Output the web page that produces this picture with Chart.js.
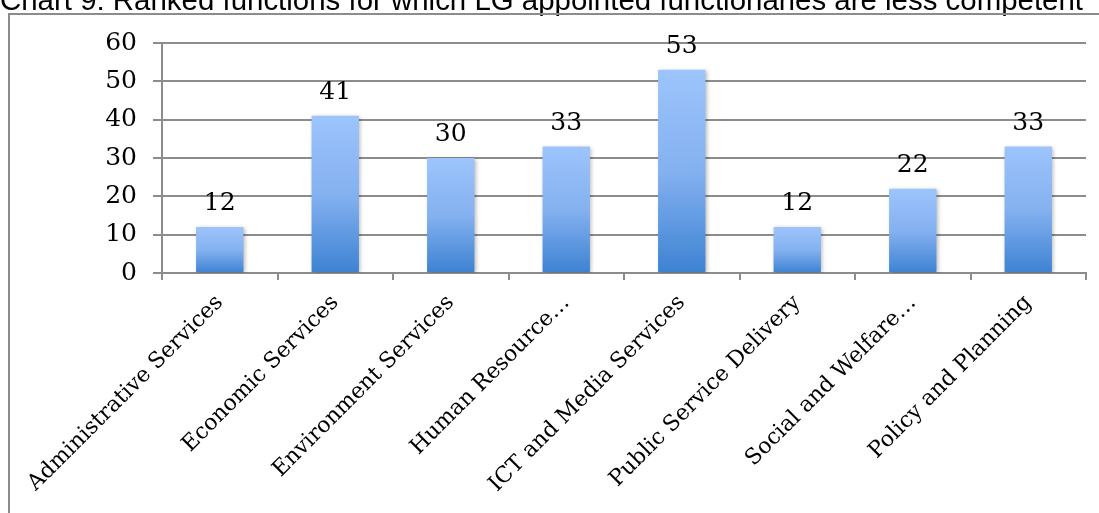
<!DOCTYPE html>
<html lang="en">

<head>
    <meta charset="UTF-8">
    <title>Chart 9</title>
    <script src="https://cdn.jsdelivr.net/npm/chart.js"></script>
    <style>
        html, body { margin: 0; padding: 0; background: #fff; }
    </style>
</head>

<body>
    <canvas id="chart_functions" width="1099" height="513"></canvas>

<script>
    // functions ranked by respondents
    var categories = [
        'Administrative Services',
        'Economic Services',
        'Environment Services',
        'Human Resource\u2026',
        'ICT and Media Services',
        'Public Service Delivery',
        'Social and Welfare\u2026',
        'Policy and Planning'
    ];
    var counts = [12, 41, 30, 33, 53, 12, 22, 33];
    var yMin = 0, yMax = 60, yStep = 10;
    var titleText = 'Chart 9: Ranked functions for which LG appointed functionaries are less competent';

    var serif = '"DejaVu Serif", serif';

    // gradient per bar, light at the top, darker blue at the base
    function barFill(ctx) {
        var chart = ctx.chart;
        if (!chart.chartArea || ctx.dataIndex === undefined) return '#7aaaf0';
        var y = chart.scales.y;
        var top = y.getPixelForValue(counts[ctx.dataIndex]);
        var base = y.getPixelForValue(0);
        var g = chart.ctx.createLinearGradient(0, top, 0, base);
        g.addColorStop(0, '#9dc4fc');
        g.addColorStop(0.5, '#84b1f0');
        g.addColorStop(1, '#3d82d2');
        return g;
    }

    // title line and the frame round the chart
    var framePlugin = {
        id: 'frame',
        beforeDraw: function (chart) {
            var c = chart.ctx;
            c.save();
            c.fillStyle = '#000';
            c.font = '30px "Liberation Sans", Arial, sans-serif';
            c.textBaseline = 'alphabetic';
            var w = c.measureText(titleText).width;
            c.translate(0, 9.5);
            c.scale(1083 / w, 1);
            c.fillText(titleText, 0, 0);
            c.restore();

            c.save();
            c.strokeStyle = '#8c8c8c';
            c.lineWidth = 2;
            c.beginPath();
            c.moveTo(9, 520);
            c.lineTo(9, 14);
            c.lineTo(1110, 14);
            c.stroke();
            c.restore();
        }
    };

    // soft shadow under the bars
    var shadowPlugin = {
        id: 'barShadow',
        beforeDatasetsDraw: function (chart) {
            var c = chart.ctx;
            c.save();
            c.shadowColor = 'rgba(0,0,0,0.28)';
            c.shadowBlur = 4;
            c.shadowOffsetX = 1.5;
            c.shadowOffsetY = 1;
        },
        afterDatasetsDraw: function (chart) {
            chart.ctx.restore();
        }
    };

    // value above every bar
    var valuePlugin = {
        id: 'values',
        afterDatasetsDraw: function (chart) {
            var c = chart.ctx;
            var meta = chart.getDatasetMeta(0);
            c.save();
            c.fillStyle = '#000';
            c.font = '25px ' + serif;
            c.textAlign = 'center';
            c.textBaseline = 'alphabetic';
            meta.data.forEach(function (bar, i) {
                c.fillText(String(counts[i]), bar.x, bar.y - 17);
            });
            c.restore();
        }
    };

    new Chart(document.getElementById('chart_functions'), {
        type: 'bar',
        data: {
            labels: categories,
            datasets: [{
                data: counts,
                backgroundColor: barFill,
                borderWidth: 0,
                barPercentage: 0.41,
                categoryPercentage: 1
            }]
        },
        options: {
            responsive: false,
            animation: false,
            layout: { padding: { top: 43, right: 13, bottom: 0, left: 0 } },
            plugins: {
                legend: { display: false },
                tooltip: { enabled: false }
            },
            scales: {
                x: {
                    grid: {
                        offset: true,
                        drawOnChartArea: false,
                        drawTicks: true,
                        tickLength: 7,
                        color: '#8c8c8c',
                        lineWidth: 2
                    },
                    border: { color: '#8c8c8c', width: 2 },
                    ticks: {
                        autoSkip: false,
                        maxRotation: 45,
                        minRotation: 45,
                        padding: 10,
                        color: '#000',
                        font: { family: serif, size: 22 }
                    },
                    afterFit: function (s) { s.height = 240; }
                },
                y: {
                    min: yMin,
                    max: yMax,
                    grid: {
                        color: '#8c8c8c',
                        lineWidth: 2,
                        tickLength: 9
                    },
                    border: { color: '#8c8c8c', width: 2 },
                    ticks: {
                        stepSize: yStep,
                        padding: 16,
                        color: '#000',
                        font: { family: serif, size: 25 }
                    },
                    afterFit: function (s) { s.width = 162; }
                }
            }
        },
        plugins: [framePlugin, shadowPlugin, valuePlugin]
    });
</script>
</body>

</html>
